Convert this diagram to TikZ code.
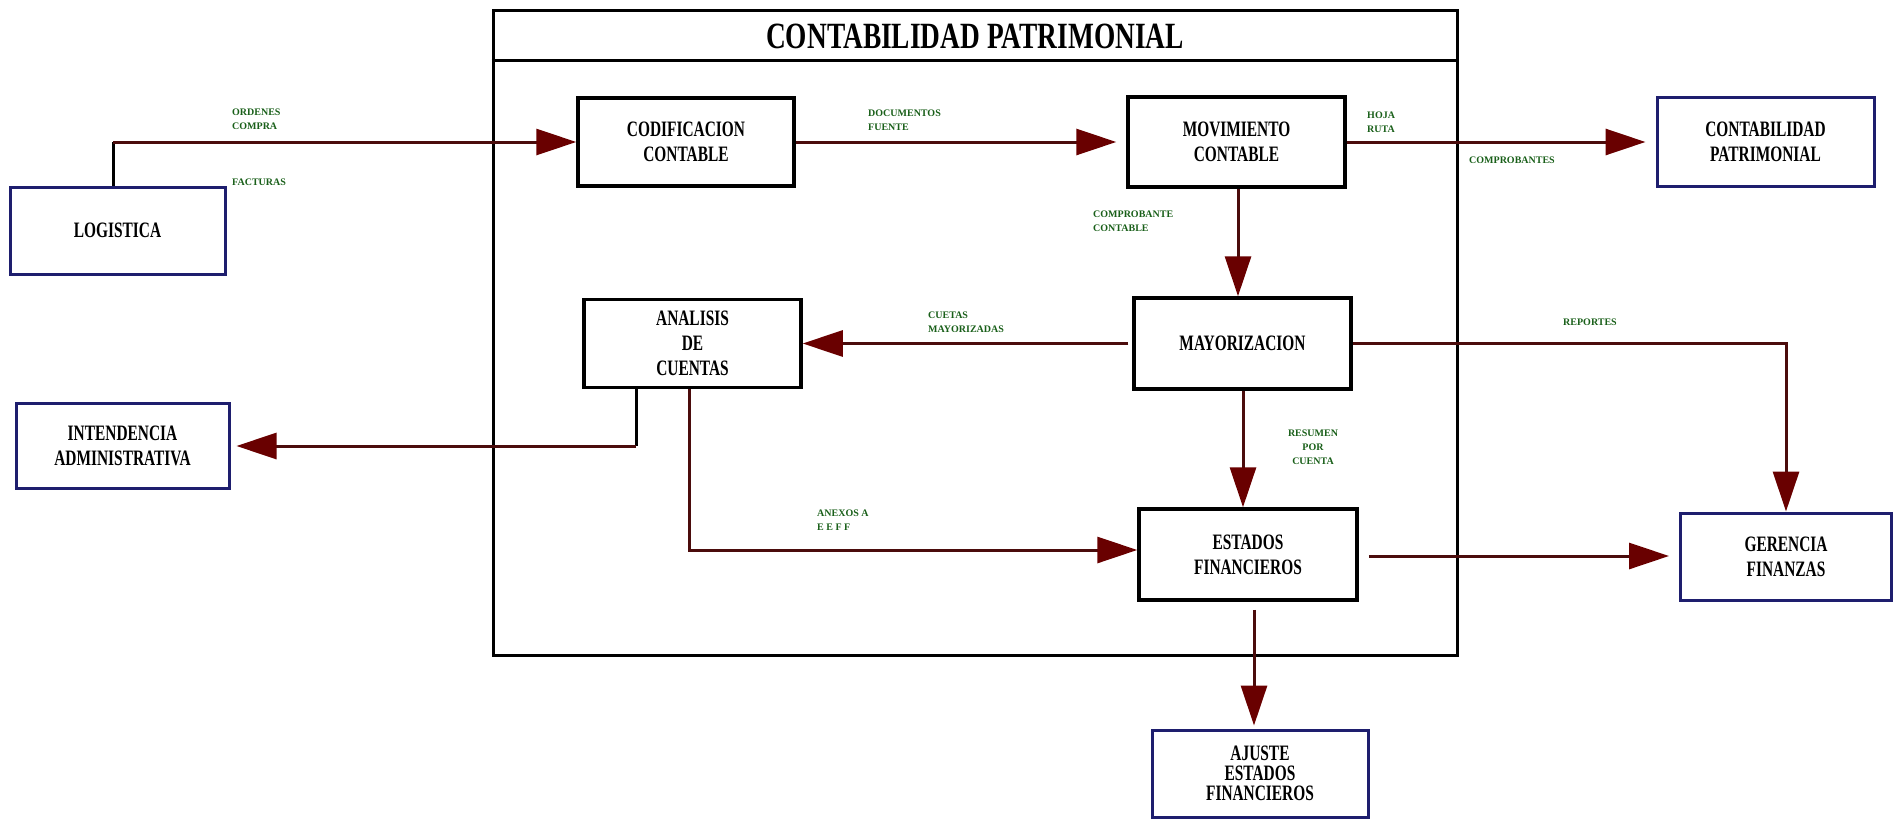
\documentclass[tikz,border=0pt]{standalone}
\usepackage{fontspec}
\setmainfont{Liberation Serif}
\newfontfamily\boxfont{Liberation Serif}[FakeStretch=0.70]
\newfontfamily\titlefont{Liberation Serif}[FakeStretch=0.74]
\usetikzlibrary{arrows.meta,calc}

\definecolor{navy}{RGB}{30,30,110}
\definecolor{flow}{RGB}{75,12,12}
\definecolor{tipfill}{RGB}{105,0,0}
\definecolor{tagtext}{RGB}{25,95,25}

\tikzset{
  procbox/.style={draw=black, line width=3.5pt, fill=white, inner sep=0pt,
    align=center, font=\boxfont\bfseries\fontsize{22}{25}\selectfont},
  extbox/.style={procbox, draw=navy, line width=3pt},
  framebox/.style={draw=black, line width=3pt, inner sep=0pt},
  flowline/.style={draw=flow, line width=3pt},
  stubline/.style={draw=black, line width=3pt},
  flowarrow/.style={flowline, -{Triangle[length=40pt,width=26pt,fill=tipfill,color=tipfill]}},
  tag/.style={text=tagtext, inner sep=0pt, align=left,
    font=\bfseries\fontsize{10}{14}\selectfont},
}

\begin{document}
\begin{tikzpicture}[x=1pt,y=-1pt]
\useasboundingbox (0,0) rectangle (1894,819);

% main area
\node[framebox, minimum width=964, minimum height=645] (frame) at (975,332.5) {};
\node[font=\titlefont\bfseries\fontsize{37}{40}\selectfont, inner sep=0pt] (title) at (975,36) {CONTABILIDAD PATRIMONIAL};
\draw[black, line width=3pt] (frame.west |- 0,60) coordinate (sepL) -- (frame.east |- 0,60) coordinate (sepR);

% processes
\node[procbox, minimum width=216, minimum height=88] (codif) at (686,142) {CODIFICACION\\CONTABLE};
\node[procbox, minimum width=217, minimum height=90] (movim) at (1236.5,142) {MOVIMIENTO\\CONTABLE};
\node[procbox, minimum width=217, minimum height=91] (mayor) at (1242.5,343.5) {MAYORIZACION};
\node[procbox, minimum width=217, minimum height=88] (analisis) at (692.5,343.5) {ANALISIS\\DE\\CUENTAS};
\node[procbox, minimum width=218, minimum height=91] (estados) at (1248,554.5) {ESTADOS\\FINANCIEROS};

% external entities
\node[extbox, minimum width=215, minimum height=87] (logistica) at (117.5,230.5) {LOGISTICA};
\node[extbox, minimum width=217, minimum height=89] (contab) at (1765.5,142) {CONTABILIDAD\\PATRIMONIAL};
\node[extbox, minimum width=213, minimum height=85] (intend) at (122.5,446) {INTENDENCIA\\ADMINISTRATIVA};
\node[extbox, minimum width=211, minimum height=87] (gerencia) at (1786,556.5) {GERENCIA\\FINANZAS};
\node[extbox, minimum width=216, minimum height=87, font=\boxfont\bfseries\fontsize{22}{20}\selectfont] (ajuste) at (1260,773.5) {AJUSTE\\ESTADOS\\FINANCIEROS};

% flows
\coordinate (logUp) at ([xshift=-4.5pt]logistica.north |- codif.west);
\draw[stubline] ([xshift=-4.5pt]logistica.north) -- (logUp);
\draw[flowarrow] (logUp) -- (codif.west);

\draw[flowarrow, shorten >=10pt] (codif.east) -- (movim.west);
\draw[flowarrow, shorten >=10pt] (movim.east) -- (contab.west);
\draw[flowarrow] ([xshift=1.5pt]movim.south) -- ([xshift=1.5pt]movim.south |- mayor.north);
\draw[flowarrow, shorten <=4pt] (mayor.west) -- (analisis.east);

\coordinate (anaDown) at ([xshift=-56.5pt]analisis.south |- intend.east);
\draw[stubline] ([xshift=-56.5pt]analisis.south) -- (anaDown);
\draw[flowarrow, shorten >=6pt] (anaDown) -- (intend.east);

\coordinate (anxTurn) at ([xshift=-3.5pt]analisis.south |- 0,550);
\draw[flowarrow] ([xshift=-3.5pt]analisis.south) -- (anxTurn) -- (anxTurn -| estados.west);

\draw[flowarrow] ([xshift=0.5pt]mayor.south) -- ([xshift=0.5pt]mayor.south |- estados.north);
\draw[flowarrow] (mayor.east) -| (gerencia.north);
\draw[flowarrow, shorten <=10pt, shorten >=10pt] ([yshift=-1.5pt]estados.east) -- ([yshift=-1.5pt]estados.east -| gerencia.west);
\draw[flowarrow, shorten <=8pt, shorten >=3pt] ([xshift=6pt]estados.south) -- ([xshift=6pt]estados.south |- ajuste.north);

% flow labels
\node[tag, anchor=west] (tOrd) at (232,119) {ORDENES\\COMPRA};
\node[tag, anchor=west] (tFac) at (232,182) {FACTURAS};
\node[tag, anchor=west] (tDoc) at (868,120) {DOCUMENTOS\\FUENTE};
\node[tag, anchor=west] (tHoja) at (1367,122) {HOJA\\RUTA};
\node[tag, anchor=west] (tComps) at (1469,160) {COMPROBANTES};
\node[tag, anchor=west] (tComp) at (1093,221) {COMPROBANTE\\CONTABLE};
\node[tag, anchor=west] (tCue) at (928,322) {CUETAS\\MAYORIZADAS};
\node[tag, anchor=west] (tRep) at (1563,322) {REPORTES};
\node[tag, align=center] (tRes) at (1313,447) {RESUMEN\\POR\\CUENTA};
\node[tag, anchor=west] (tAnx) at (817,520) {ANEXOS A\\E E F F};
\end{tikzpicture}
\end{document}
